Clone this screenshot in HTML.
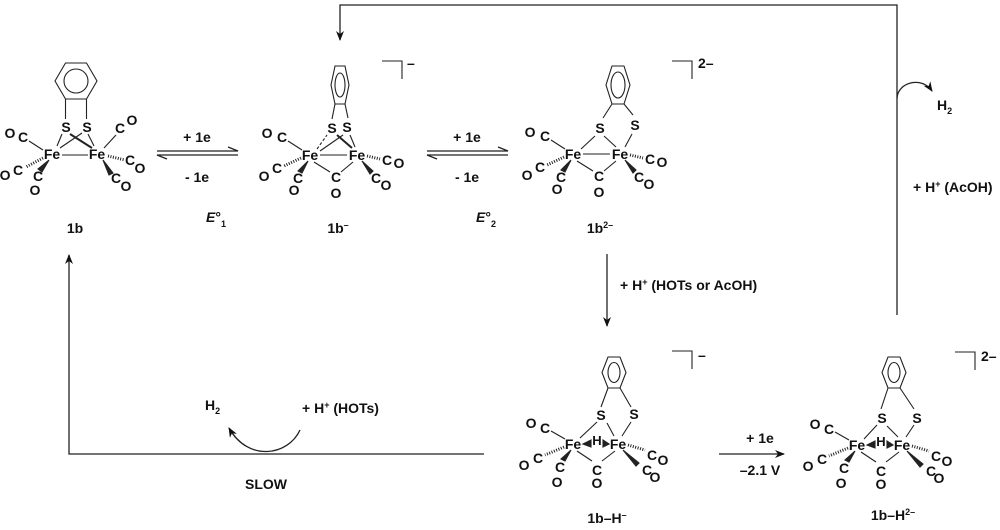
<!DOCTYPE html>
<html><head><meta charset="utf-8"><style>
html,body{margin:0;padding:0;background:#fff}
svg text{font-family:"Liberation Sans",Arial,sans-serif;font-weight:bold;font-size:14px;fill:#111}
</style></head><body>
<svg width="1000" height="525" viewBox="0 0 1000 525" xmlns="http://www.w3.org/2000/svg">
<defs>
<marker id="ah" markerWidth="10" markerHeight="8" refX="9" refY="4" orient="auto" markerUnits="userSpaceOnUse"><path d="M0,0 L10,4 L0,8 L3,4 z" fill="#111"/></marker>
</defs>
<g stroke="#222" stroke-width="1.1" fill="none">

<!-- 1b -->
<g>
<polygon points="55,81 65.5,63 86.5,63 97,81 86.5,99 65.5,99"/>
<ellipse cx="76" cy="81" rx="12" ry="12"/>
<line x1="65.5" y1="99" x2="65.5" y2="119"/><line x1="86.5" y1="99" x2="86.5" y2="119"/>
<line x1="62" y1="134" x2="57" y2="146"/><line x1="70" y1="134" x2="92" y2="148" stroke-width="2"/>
<line x1="88" y1="134" x2="94" y2="146"/><line x1="60" y1="148" x2="82" y2="133"/>
<line x1="62" y1="155" x2="88" y2="155"/>
<line x1="43" y1="150" x2="29" y2="141"/>
<line x1="43" y1="158" x2="26" y2="167" stroke-width="3" stroke-dasharray="1,1.5"/>
<polygon points="49,160 42,172 38,169" fill="#222"/>
<line x1="104" y1="148" x2="116" y2="135"/>
<line x1="108" y1="156" x2="125" y2="160" stroke-width="3" stroke-dasharray="1,1.5"/>
<polygon points="103,160 113,173 109,175" fill="#222"/>
</g>

<!-- 1b- -->
<g transform="translate(310,155)">
<polygon points="25,-89 35,-89 39,-70 35,-51 25,-51 21,-70"/>
<ellipse cx="30" cy="-70" rx="5" ry="12"/>
<line x1="25" y1="-51" x2="22" y2="-36"/><line x1="35" y1="-51" x2="38" y2="-37"/>
<line x1="7" y1="-6" x2="17" y2="-20" stroke-dasharray="3,2"/><line x1="27" y1="-20" x2="42" y2="-7" stroke-width="2"/>
<line x1="40" y1="-20" x2="45" y2="-8"/><line x1="10" y1="-4" x2="33" y2="-20"/>
<line x1="10" y1="0" x2="37" y2="0"/>
<line x1="4" y1="7" x2="20" y2="17"/><line x1="43" y1="7" x2="31" y2="17"/>
<line x1="-8" y1="-5" x2="-22" y2="-14"/>
<line x1="-9" y1="3" x2="-26" y2="11" stroke-width="3" stroke-dasharray="1,1.5"/>
<polygon points="-2,6 -8,18 -12,16" fill="#222"/>
<line x1="57" y1="1" x2="70" y2="4" stroke-width="3" stroke-dasharray="1,1.5"/>
<polygon points="52,6 63,16 60,19" fill="#222"/>
</g>

<!-- 1b2- -->
<g transform="translate(573,154)">
<polygon points="39,-88 51,-88 57,-69 51,-50 39,-50 33,-69"/>
<ellipse cx="45" cy="-69" rx="7" ry="13"/>
<line x1="39" y1="-50" x2="30" y2="-36"/><line x1="51" y1="-50" x2="60" y2="-39"/>
<line x1="8" y1="-5" x2="22" y2="-18"/><line x1="31" y1="-18" x2="43" y2="-7"/>
<line x1="52" y1="-7" x2="59" y2="-20"/>
<line x1="10" y1="0" x2="37" y2="0"/>
<line x1="4" y1="7" x2="20" y2="17"/><line x1="43" y1="7" x2="31" y2="17"/>
<line x1="-8" y1="-5" x2="-22" y2="-14"/>
<line x1="-9" y1="3" x2="-26" y2="11" stroke-width="3" stroke-dasharray="1,1.5"/>
<polygon points="-2,6 -8,18 -12,16" fill="#222"/>
<line x1="57" y1="1" x2="70" y2="4" stroke-width="3" stroke-dasharray="1,1.5"/>
<polygon points="52,6 63,16 60,19" fill="#222"/>
</g>

<!-- 1b-H- -->
<g transform="translate(573,444)">
<polygon points="35,-87 47,-87 53,-71.5 47,-56 35,-56 29,-71.5"/>
<ellipse cx="41" cy="-71.5" rx="6" ry="10"/>
<line x1="35" y1="-56" x2="28" y2="-37"/><line x1="47" y1="-56" x2="58" y2="-37"/>
<line x1="7" y1="-6" x2="24" y2="-22"/><line x1="34" y1="-21" x2="41" y2="-8"/>
<line x1="58" y1="-22" x2="49" y2="-8"/>
<polygon points="10,0 18,-4 18,3" fill="#222"/><polygon points="36,0 30,-4 30,3" fill="#222"/>
<line x1="4" y1="7" x2="19" y2="17"/><line x1="42" y1="7" x2="29" y2="17"/>
<line x1="-8" y1="-5" x2="-22" y2="-13"/>
<line x1="-9" y1="3" x2="-28" y2="11" stroke-width="3" stroke-dasharray="1,1.5"/>
<polygon points="-2,6 -8,17 -12,15" fill="#222"/>
<line x1="55" y1="1" x2="72" y2="6" stroke-width="3" stroke-dasharray="1,1.5"/>
<polygon points="50,6 66,19 63,22" fill="#222"/>
</g>

<!-- 1b-H2- -->
<g transform="translate(857,445)">
<polygon points="31,-88 43,-88 49,-72.5 43,-57 31,-57 25,-72.5"/>
<ellipse cx="37" cy="-72.5" rx="6" ry="10"/>
<line x1="31" y1="-57" x2="24" y2="-36"/><line x1="43" y1="-57" x2="57" y2="-36"/>
<line x1="7" y1="-6" x2="20" y2="-20"/><line x1="30" y1="-19" x2="41" y2="-8"/>
<line x1="57" y1="-20" x2="49" y2="-8"/>
<polygon points="10,0 18,-4 18,3" fill="#222"/><polygon points="36,0 30,-4 30,3" fill="#222"/>
<line x1="4" y1="7" x2="19" y2="17"/><line x1="42" y1="7" x2="29" y2="17"/>
<line x1="-8" y1="-5" x2="-22" y2="-13"/>
<line x1="-9" y1="3" x2="-28" y2="11" stroke-width="3" stroke-dasharray="1,1.5"/>
<polygon points="-2,6 -8,17 -12,15" fill="#222"/>
<line x1="55" y1="1" x2="72" y2="6" stroke-width="3" stroke-dasharray="1,1.5"/>
<polygon points="50,6 66,19 63,22" fill="#222"/>
</g>

<!-- charge brackets -->
<polyline points="382,61 402,61 402,79"/>
<polyline points="672,61 692,61 692,79"/>
<polyline points="672,351 692,351 692,369"/>
<polyline points="955,352 975,352 975,370"/>

<!-- equilibrium arrows -->
<polyline points="157,151 238,151 228,147" stroke-width="1.3"/>
<polyline points="238,155 157,155 167,159" stroke-width="1.3"/>
<polyline points="427,151 508,151 498,147" stroke-width="1.3"/>
<polyline points="508,155 427,155 437,159" stroke-width="1.3"/>

<line x1="607" y1="254" x2="607" y2="326" stroke-width="1.3" marker-end="url(#ah)"/>
<line x1="719" y1="454" x2="784" y2="454" stroke-width="1.3" marker-end="url(#ah)"/>
<polyline points="897,315 897,5 340,5 340,40" stroke-width="1.3" marker-end="url(#ah)"/>
<path d="M897,98 C898,82 922,76 932,91" stroke-width="1.3" marker-end="url(#ah)"/>
<polyline points="484,454 69,454 69,255" stroke-width="1.3" marker-end="url(#ah)"/>
<path d="M300,430 C288,456 248,462 229,428" stroke-width="1.3" marker-end="url(#ah)"/>
</g>

<!-- texts 1b -->
<text x="52" y="159" text-anchor="middle">Fe</text><text x="97" y="159" text-anchor="middle">Fe</text>
<text x="66" y="132" text-anchor="middle">S</text><text x="87" y="132" text-anchor="middle">S</text>
<text x="10" y="138" text-anchor="middle">O</text><text x="23" y="142" text-anchor="middle">C</text>
<text x="5" y="180" text-anchor="middle">O</text><text x="18" y="175" text-anchor="middle">C</text>
<text x="38" y="181" text-anchor="middle">C</text><text x="35" y="195" text-anchor="middle">O</text>
<text x="120" y="133" text-anchor="middle">C</text><text x="132" y="125" text-anchor="middle">O</text>
<text x="130" y="165" text-anchor="middle">C</text><text x="140" y="173" text-anchor="middle">O</text>
<text x="116" y="183" text-anchor="middle">C</text><text x="126" y="191" text-anchor="middle">O</text>

<g transform="translate(310,155)">
<text x="0" y="5" text-anchor="middle">Fe</text><text x="47" y="5" text-anchor="middle">Fe</text>
<text x="22" y="-22" text-anchor="middle">S</text><text x="37" y="-23" text-anchor="middle">S</text>
<text x="26" y="27" text-anchor="middle">C</text><text x="26" y="43" text-anchor="middle">O</text>
<text x="-43" y="-17" text-anchor="middle">O</text><text x="-28" y="-13" text-anchor="middle">C</text>
<text x="-46" y="26" text-anchor="middle">O</text><text x="-33" y="18" text-anchor="middle">C</text>
<text x="-12" y="28" text-anchor="middle">C</text><text x="-16" y="40" text-anchor="middle">O</text>
<text x="77" y="10" text-anchor="middle">C</text><text x="89" y="13" text-anchor="middle">O</text>
<text x="66" y="28" text-anchor="middle">C</text><text x="76" y="35" text-anchor="middle">O</text>
</g>
<g transform="translate(573,154)">
<text x="0" y="5" text-anchor="middle">Fe</text><text x="47" y="5" text-anchor="middle">Fe</text>
<text x="27" y="-21" text-anchor="middle">S</text><text x="62" y="-24" text-anchor="middle">S</text>
<text x="26" y="27" text-anchor="middle">C</text><text x="26" y="43" text-anchor="middle">O</text>
<text x="-43" y="-17" text-anchor="middle">O</text><text x="-28" y="-13" text-anchor="middle">C</text>
<text x="-46" y="26" text-anchor="middle">O</text><text x="-33" y="18" text-anchor="middle">C</text>
<text x="-12" y="28" text-anchor="middle">C</text><text x="-16" y="40" text-anchor="middle">O</text>
<text x="77" y="10" text-anchor="middle">C</text><text x="89" y="13" text-anchor="middle">O</text>
<text x="66" y="28" text-anchor="middle">C</text><text x="76" y="35" text-anchor="middle">O</text>
</g>
<g transform="translate(573,444)">
<text x="0" y="5" text-anchor="middle">Fe</text><text x="45" y="5" text-anchor="middle">Fe</text>
<text x="24" y="1" text-anchor="middle" style="font-size:13px">H</text>
<text x="28" y="-24" text-anchor="middle">S</text><text x="61" y="-25" text-anchor="middle">S</text>
<text x="24" y="31" text-anchor="middle">C</text><text x="24" y="44" text-anchor="middle">O</text>
<text x="-42" y="-16" text-anchor="middle">O</text><text x="-28" y="-11" text-anchor="middle">C</text>
<text x="-49" y="26" text-anchor="middle">O</text><text x="-35" y="19" text-anchor="middle">C</text>
<text x="-13" y="28" text-anchor="middle">C</text><text x="-16" y="43" text-anchor="middle">O</text>
<text x="79" y="16" text-anchor="middle">C</text><text x="90" y="21" text-anchor="middle">O</text>
<text x="74" y="31" text-anchor="middle">C</text><text x="82" y="38" text-anchor="middle">O</text>
</g>
<g transform="translate(857,445)">
<text x="0" y="5" text-anchor="middle">Fe</text><text x="45" y="5" text-anchor="middle">Fe</text>
<text x="24" y="1" text-anchor="middle" style="font-size:13px">H</text>
<text x="25" y="-22" text-anchor="middle">S</text><text x="60" y="-22" text-anchor="middle">S</text>
<text x="24" y="31" text-anchor="middle">C</text><text x="24" y="44" text-anchor="middle">O</text>
<text x="-42" y="-16" text-anchor="middle">O</text><text x="-28" y="-11" text-anchor="middle">C</text>
<text x="-49" y="26" text-anchor="middle">O</text><text x="-35" y="19" text-anchor="middle">C</text>
<text x="-13" y="28" text-anchor="middle">C</text><text x="-16" y="43" text-anchor="middle">O</text>
<text x="79" y="16" text-anchor="middle">C</text><text x="90" y="21" text-anchor="middle">O</text>
<text x="74" y="31" text-anchor="middle">C</text><text x="82" y="38" text-anchor="middle">O</text>
</g>

<!-- charges -->
<text x="407" y="68">–</text>
<text x="698" y="68">2–</text>
<text x="698" y="360">–</text>
<text x="981" y="361">2–</text>

<!-- compound labels -->
<text x="75" y="233" text-anchor="middle">1b</text>
<text x="338" y="233" text-anchor="middle">1b<tspan dy="-5" font-size="9">–</tspan></text>
<text x="600" y="233" text-anchor="middle">1b<tspan dy="-5" font-size="9">2–</tspan></text>
<text x="607" y="523" text-anchor="middle">1b–H<tspan dy="-5" font-size="9">–</tspan></text>
<text x="893" y="520" text-anchor="middle">1b–H<tspan dy="-5" font-size="9">2–</tspan></text>

<!-- arrow labels -->
<text x="197" y="142" text-anchor="middle">+ 1e</text>
<text x="197" y="182" text-anchor="middle">- 1e</text>
<text x="216" y="222" text-anchor="middle"><tspan font-style="italic">E</tspan>°<tspan dy="5" font-size="9">1</tspan></text>
<text x="467" y="142" text-anchor="middle">+ 1e</text>
<text x="467" y="182" text-anchor="middle">- 1e</text>
<text x="486" y="222" text-anchor="middle"><tspan font-style="italic">E</tspan>°<tspan dy="5" font-size="9">2</tspan></text>
<text x="620" y="290">+ H<tspan dy="-5" font-size="9">+</tspan><tspan dy="5"> (HOTs or AcOH)</tspan></text>
<text x="760" y="443" text-anchor="middle">+ 1e</text>
<text x="760" y="475" text-anchor="middle">–2.1 V</text>
<text x="937" y="110">H<tspan dy="4" font-size="9">2</tspan></text>
<text x="913" y="192">+ H<tspan dy="-5" font-size="9">+</tspan><tspan dy="5"> (AcOH)</tspan></text>
<text x="205" y="410">H<tspan dy="4" font-size="9">2</tspan></text>
<text x="302" y="413">+ H<tspan dy="-5" font-size="9">+</tspan><tspan dy="5"> (HOTs)</tspan></text>
<text x="266" y="489" text-anchor="middle">SLOW</text>
</svg>
</body></html>
